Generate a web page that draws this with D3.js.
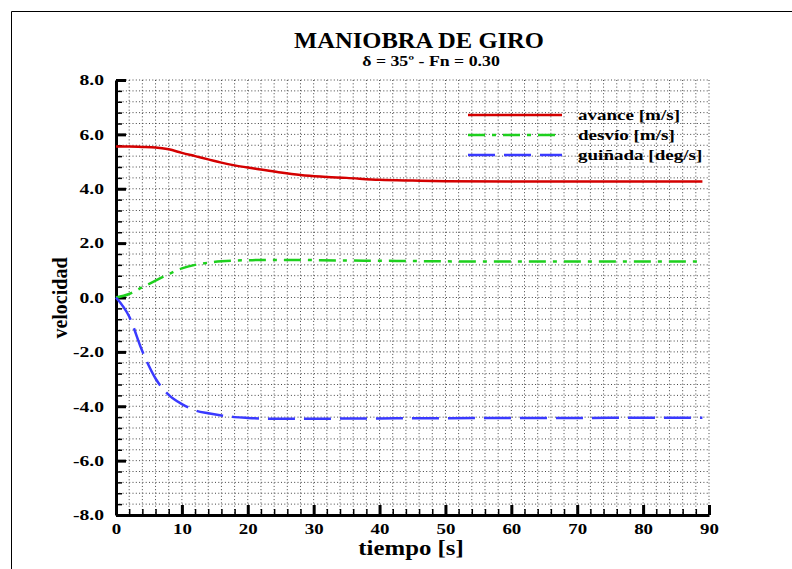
<!DOCTYPE html>
<html>
<head>
<meta charset="utf-8">
<script src="https://cdn.jsdelivr.net/npm/d3@7"></script>
<style>
  body { margin: 0; background: #fff; }
  svg text { font-family: 'Liberation Serif', 'Tinos', 'Times New Roman', 'DejaVu Serif', serif; font-weight: bold; fill: #000; }
</style>
</head>
<body>
<svg id="chart" width="792" height="569"></svg>
<script>
// data
const tiempo  = [0, 2, 4, 6, 8, 10, 12, 14, 16, 18, 20, 22, 25, 28, 31, 35, 40, 45, 50, 60, 70, 80, 89];
const avance  = [5.55, 5.55, 5.54, 5.52, 5.45, 5.32, 5.2, 5.08, 4.96, 4.86, 4.78, 4.71, 4.6, 4.51, 4.45, 4.4, 4.33, 4.3, 4.28, 4.27, 4.27, 4.27, 4.27];
const desvio  = [0, 0.13, 0.38, 0.62, 0.86, 1.07, 1.2, 1.28, 1.33, 1.36, 1.37, 1.38, 1.38, 1.38, 1.37, 1.36, 1.35, 1.34, 1.33, 1.32, 1.32, 1.32, 1.32];
const guinada = [0, -0.7, -1.98, -2.98, -3.58, -3.92, -4.15, -4.26, -4.34, -4.4, -4.43, -4.45, -4.46, -4.46, -4.46, -4.45, -4.45, -4.44, -4.44, -4.43, -4.43, -4.42, -4.42];

const seriesNames = ["avance [m/s]", "desvío [m/s]", "guiñada [deg/s]"];
const xTicks = [0, 10, 20, 30, 40, 50, 60, 70, 80, 90];
const yTicks = [-8, -6, -4, -2, 0, 2, 4, 6, 8];

const margin = {top: 80, left: 116},
    width = 593,
    height = 435;

const svg = d3.select('#chart');

// outer frame (only top and left edges visible)
svg.append('path')
    .attr('d', 'M11.5,569 V11.5 H792')
    .attr('fill', 'none')
    .attr('stroke', '#000')
    .attr('stroke-width', 1);

const g = svg.append('g').attr('transform', `translate(${margin.left},${margin.top})`);

const x = d3.scaleLinear().domain([0, 90]).range([0, width]);
const y = d3.scaleLinear().domain([-8, 8]).range([height, 0]);

// stretch text horizontally like the original render
function stretch(sel, sx) {
  sel.each(function () {
    const t = d3.select(this);
    const tx = +t.attr('x') || 0, ty = +t.attr('y') || 0;
    t.attr('x', 0).attr('y', 0).attr('transform', `translate(${tx},${ty}) scale(${sx},1)`);
  });
}

// dotted grid
const xMinor = d3.range(2, 91, 2);
const yMinor = d3.range(-7.6, 8.01, 0.4);
g.append('g').selectAll('line').data(xMinor).join('line')
    .attr('x1', d => x(d)).attr('x2', d => x(d))
    .attr('y1', 0).attr('y2', height)
    .attr('stroke', '#444').attr('stroke-dasharray', '1,2.3');
g.append('g').selectAll('line').data(yMinor).join('line')
    .attr('x1', 0).attr('x2', width)
    .attr('y1', d => y(d)).attr('y2', d => y(d))
    .attr('stroke', '#444').attr('stroke-dasharray', '1,2.3');

// minor ticks
g.append('g')
    .call(d3.axisLeft(y).tickValues(yMinor).tickSize(-6).tickSizeOuter(0).tickFormat(''))
    .call(a => a.select('.domain').remove())
    .selectAll('line').attr('stroke-width', 1.5);
g.append('g')
    .attr('transform', `translate(0,${height})`)
    .call(d3.axisBottom(x).tickValues(xMinor).tickSize(-6).tickSizeOuter(0).tickFormat(''))
    .call(a => a.select('.domain').remove())
    .selectAll('line').attr('stroke-width', 1.5);

// major ticks + labels
const yAxis = g.append('g')
    .call(d3.axisLeft(y).tickValues(yTicks).tickSize(-10).tickSizeOuter(0).tickPadding(12)
        .tickFormat(d => d.toFixed(1)));
yAxis.attr('font-family', null);
yAxis.select('.domain').attr('stroke-width', 3);
yAxis.selectAll('line').attr('stroke-width', 3);
yAxis.selectAll('text').style('font-size', '14px').attr('dy', '0.34em');
stretch(yAxis.selectAll('text'), 1.4);

const xAxis = g.append('g')
    .attr('transform', `translate(0,${height})`)
    .call(d3.axisBottom(x).tickValues(xTicks).tickSize(-10).tickSizeOuter(0).tickPadding(9));
xAxis.attr('font-family', null);
xAxis.select('.domain').attr('stroke-width', 3);
xAxis.selectAll('line').attr('stroke-width', 3);
xAxis.selectAll('text').style('font-size', '14px');
stretch(xAxis.selectAll('text'), 1.35);

// series
const series = [
  {name: seriesNames[0], values: avance,  color: '#d40000', dash: null},
  {name: seriesNames[1], values: desvio,  color: '#1ed01e', dash: '17,7,4,7'},
  {name: seriesNames[2], values: guinada, color: '#3a3aff', dash: '27,9'}
];

const line = d3.line()
    .x(d => x(d[0]))
    .y(d => y(d[1]))
    .curve(d3.curveMonotoneX);

series.forEach(s => {
  g.append('path')
      .datum(tiempo.map((t, i) => [t, s.values[i]]))
      .attr('fill', 'none')
      .attr('stroke', s.color)
      .attr('stroke-width', 2.5)
      .attr('stroke-dasharray', s.dash)
      .attr('d', line);
});

// legend
const legend = svg.append('g');
series.forEach((s, i) => {
  const ly = 115 + i * 20;
  legend.append('line')
      .attr('x1', 468).attr('x2', 562)
      .attr('y1', ly).attr('y2', ly)
      .attr('stroke', s.color)
      .attr('stroke-width', 2.5)
      .attr('stroke-dasharray', s.dash);
  legend.append('text')
      .attr('x', 578).attr('y', ly + 5)
      .style('font-size', '15px')
      .text(s.name)
      .call(t => stretch(t, 1.27));
});

// titles
svg.append('text')
    .attr('x', 419).attr('y', 48)
    .attr('text-anchor', 'middle')
    .style('font-size', '23px')
    .text('MANIOBRA DE GIRO')
    .call(t => stretch(t, 1.07));

svg.append('text')
    .attr('x', 431).attr('y', 66)
    .attr('text-anchor', 'middle')
    .style('font-size', '14px')
    .text('δ = 35º - Fn = 0.30')
    .call(t => stretch(t, 1.27));

svg.append('text')
    .attr('x', 411).attr('y', 555)
    .attr('text-anchor', 'middle')
    .style('font-size', '20px')
    .text('tiempo [s]')
    .call(t => stretch(t, 1.24));

svg.append('text')
    .attr('transform', 'translate(67,298) rotate(-90)')
    .attr('text-anchor', 'middle')
    .style('font-size', '20px')
    .text('velocidad');
</script>
</body>
</html>
